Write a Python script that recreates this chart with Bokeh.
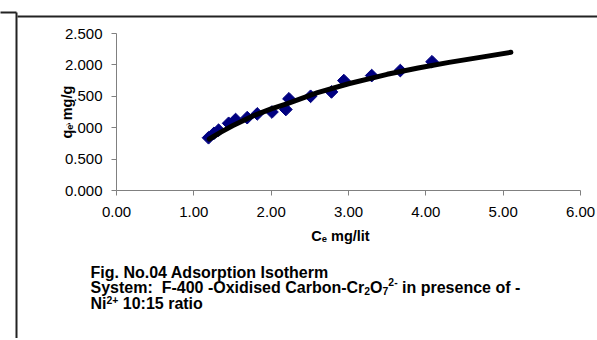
import math
import re
from bokeh.plotting import figure
from bokeh.models import Range1d, FixedTicker
from bokeh.embed import file_html
from bokeh.resources import INLINE
from bokeh.core.properties import value

# ---------------- data ----------------
ce = [1.19, 1.26, 1.32, 1.45, 1.54, 1.69, 1.82, 2.01, 2.19, 2.23, 2.51, 2.78, 2.94, 3.30, 3.67, 4.08]
qe = [0.84, 0.91, 0.96, 1.07, 1.13, 1.16, 1.22, 1.25, 1.29, 1.46, 1.50, 1.57, 1.75, 1.83, 1.91, 2.05]

fit_ce = [1.20, 1.35, 1.50, 1.75, 2.00, 2.20, 2.60, 3.00, 3.50, 3.90, 4.30, 4.70, 5.10]
fit_qe = [0.82, 0.93, 1.03, 1.18, 1.30, 1.38, 1.56, 1.70, 1.85, 1.95, 2.04, 2.12, 2.20]

x_ticks = [0, 1, 2, 3, 4, 5, 6]
x_tick_labels = ["0.00", "1.00", "2.00", "3.00", "4.00", "5.00", "6.00"]
y_ticks = [0.0, 0.5, 1.0, 1.5, 2.0, 2.5]
y_tick_labels = ["0.000", "0.500", "1.000", "1.500", "2.000", "2.500"]

# ---------------- layout ----------------
W, H = 597, 338
# pixel positions of the axis ends in the picture
PX0, PX1 = 116, 580      # x = 0 and x = 6
PY0, PY1 = 190, 33       # y = 0 and y = 2.5
X0, X1 = x_ticks[0], x_ticks[-1]
Y0, Y1 = y_ticks[0], y_ticks[-1]
SX = (PX1 - PX0) / (X1 - X0)
SY = (PY0 - PY1) / (Y1 - Y0)


def dx(px):  # canvas pixel -> data x
    return X0 + (px - PX0) / SX


def dy(py):  # canvas pixel -> data y
    return Y0 + (PY0 - py) / SY


p = figure(width=W, height=H, x_range=Range1d(dx(0), dx(W)), y_range=Range1d(dy(H), dy(0)),
           output_backend="svg", toolbar_location=None, min_border=0)
p.outline_line_color = None
p.grid.visible = False
p.background_fill_color = "white"
p.border_fill_color = "white"

AX = "#808080"
p.xaxis.fixed_location = Y0
p.yaxis.fixed_location = X0
p.xaxis.bounds = (X0, X1)
p.yaxis.bounds = (Y0, Y1)
for ax, ticks, labels, so in ((p.xaxis, x_ticks, x_tick_labels, 11),
                              (p.yaxis, y_ticks, y_tick_labels, 9)):
    ax.ticker = FixedTicker(ticks=ticks)
    ax.major_label_overrides = {t: l for t, l in zip(ticks, labels)}
    ax.axis_line_color = AX
    ax.major_tick_line_color = AX
    ax.minor_tick_line_color = None
    ax.major_tick_out = 5
    ax.major_tick_in = 0
    ax.major_label_text_font = "Liberation Sans"
    ax.major_label_text_font_size = "15px"
    ax.major_label_text_color = "black"
    ax.major_label_standoff = so

# data
p.scatter(ce, qe, marker="square", angle=math.pi / 4, size=9,
          fill_color="#000080", line_color="#000080")
p.line(fit_ce, fit_qe, line_color="black", line_width=5, line_cap="round", line_join="round")

# ---------------- text ----------------
BOLD = {' ': 278, '!': 333, '-': 333, '.': 278, '/': 278, ':': 333, '+': 584,
        'A': 722, 'B': 722, 'C': 722, 'D': 722, 'E': 667, 'F': 611, 'G': 778, 'H': 722,
        'I': 278, 'J': 556, 'K': 722, 'L': 611, 'M': 833, 'N': 722, 'O': 778, 'P': 667,
        'Q': 778, 'R': 722, 'S': 667, 'T': 611, 'U': 722, 'V': 667, 'W': 944, 'X': 667,
        'Y': 667, 'Z': 611,
        'a': 556, 'b': 611, 'c': 556, 'd': 611, 'e': 556, 'f': 333, 'g': 611, 'h': 611,
        'i': 278, 'j': 278, 'k': 556, 'l': 278, 'm': 889, 'n': 611, 'o': 611, 'p': 611,
        'q': 611, 'r': 389, 's': 556, 't': 333, 'u': 611, 'v': 556, 'w': 778, 'x': 556,
        'y': 556, 'z': 500}


def tw(s, size):
    return sum(BOLD.get(c, 556) for c in s) / 1000.0 * size


def pieces(text):
    # split so that leading/trailing and repeated spaces become explicit advances
    return [tok for tok in re.split(r"(^ +| {2,}| +$)", text) if tok]


def runs(start, base, parts, size, rotated=False, bg=None):
    pos = start
    for part in parts:
        text, kind = part[0], part[1]
        if kind == "sub":
            fs, off = size * 0.65, 0.22 * size
        elif kind == "sup":
            fs, off = size * 0.65, -(part[2] if len(part) > 2 else 0.36) * size
        else:
            fs, off = size, 0.0
        for tok in pieces(text):
            adv = tw(tok, fs)
            if tok.strip():
                kw = dict(text=[tok], text_font=value("Liberation Sans"),
                          text_font_style=value("bold"), text_font_size=value(f"{fs:.2f}px"),
                          text_color=value("black"), text_align=value("left"),
                          text_baseline=value("alphabetic"), level="overlay")
                if bg:
                    kw["background_fill_color"] = bg
                if rotated:
                    p.text(x=[dx(base + off)], y=[dy(pos)], angle=math.pi / 2, **kw)
                else:
                    p.text(x=[dx(pos)], y=[dy(base + off)], **kw)
            pos = pos - adv if rotated else pos + adv


# y-axis title (rotated, drawn over the tick labels as in the reference)
runs(138, 66, [("q", "n"), ("e", "sub"), (" mg/g", "n")], 14.5, rotated=True, bg="white")
# x-axis title
xt = [("C", "n"), ("e", "sub"), (" mg/lit", "n")]
xw = tw("C", 14.5) + tw("e", 14.5 * 0.65) + tw(" mg/lit", 14.5)
runs(340 - xw / 2, 235, xt, 14.5)
# caption
runs(90, 272, [("Fig. No.04 Adsorption Isotherm", "n")], 16)
runs(90, 287, [("System:  F-400 -Oxidised Carbon-Cr", "n"), ("2", "sub"), ("O", "n"),
               ("7", "sub"), ("2-", "sup"), (" in presence of -", "n")], 16)
runs(90, 303, [("Ni", "n"), ("2+", "sup", 0.24), (" 10:15 ratio", "n")], 16)

# frame lines of the surrounding boxes
FR = dict(line_color="#222222", line_width=2)
p.line([dx(16), dx(16)], [dy(12), dy(H + 5)], **FR)
p.line([dx(-2), dx(16)], [dy(12), dy(12)], **FR)
p.line([dx(17), dx(W + 5)], [dy(16), dy(16)], **FR)

open("out.html", "w").write(file_html(p, INLINE))
